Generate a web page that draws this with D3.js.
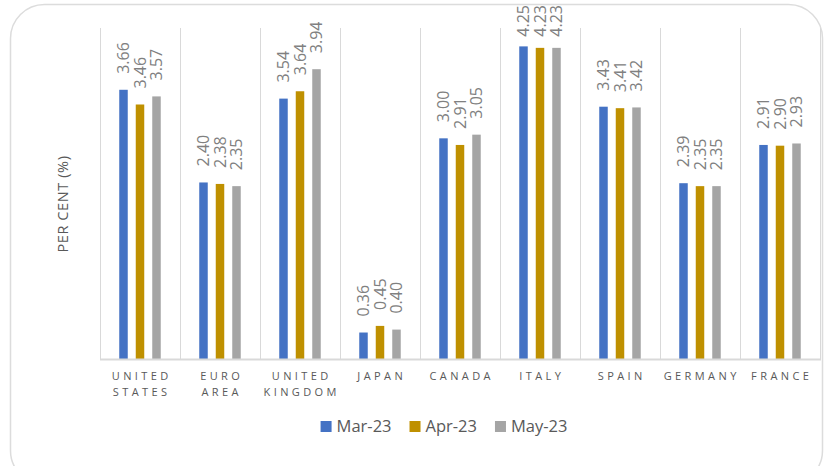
<!DOCTYPE html>
<html>
<head>
<meta charset="utf-8">
<script src="https://cdn.jsdelivr.net/npm/d3@7"></script>
<style>
  body { margin: 0; background: #fff; }
  svg { display: block; font-family: "Open Sans", "Noto Sans", sans-serif; }
</style>
</head>
<body>
<div id="chart"></div>
<script>
// data
var countries = ["UNITED STATES", "EURO AREA", "UNITED KINGDOM", "JAPAN", "CANADA", "ITALY", "SPAIN", "GERMANY", "FRANCE"];
var months = ["Mar-23", "Apr-23", "May-23"];
var mar23 = [3.66, 2.40, 3.54, 0.36, 3.00, 4.25, 3.43, 2.39, 2.91];
var apr23 = [3.46, 2.38, 3.64, 0.45, 2.91, 4.23, 3.41, 2.35, 2.90];
var may23 = [3.57, 2.35, 3.94, 0.40, 3.05, 4.23, 3.42, 2.35, 2.93];
var colors = ["#4472C4", "#BF9000", "#A5A5A5"];

var svgWidth = 825;
var svgHeight = 466;

// plot area
var plot = { left: 100, right: 820, top: 28, bottom: 359 };

var svg = d3.select("#chart").append("svg")
    .attr("width", svgWidth)
    .attr("height", svgHeight);

// rounded frame
svg.append("rect")
    .attr("x", 10.5)
    .attr("y", 4.5)
    .attr("width", 812)
    .attr("height", 480)
    .attr("rx", 34)
    .attr("fill", "#fff")
    .attr("stroke", "#dcdcdc")
    .attr("stroke-width", 1.5);

var x0 = d3.scaleBand()
    .domain(countries)
    .range([plot.left, plot.right])
    .padding(0);

var x1 = d3.scaleBand()
    .domain(months)
    .range([19.25, 60.75])
    .paddingInner(0.485)
    .paddingOuter(0);

var y = d3.scaleLinear()
    .domain([0, 4.5])
    .range([plot.bottom, plot.top]);

// vertical separators between categories
var seps = countries.map(function(c) { return x0(c); }).concat([plot.right]);
svg.append("g").selectAll("line")
    .data(seps)
    .enter()
    .append("line")
    .attr("x1", d => d + 0.5)
    .attr("x2", d => d + 0.5)
    .attr("y1", plot.top)
    .attr("y2", plot.bottom)
    .attr("stroke", "#d9d9d9")
    .attr("stroke-width", 1);

// bars
var series = [mar23, apr23, may23];
var rows = [];
countries.forEach(function(c, i) {
  months.forEach(function(m, j) {
    rows.push({ country: c, month: m, value: series[j][i], color: colors[j] });
  });
});

svg.append("g").selectAll("rect")
    .data(rows)
    .enter()
    .append("rect")
    .attr("x", d => x0(d.country) + x1(d.month))
    .attr("y", d => y(d.value))
    .attr("width", x1.bandwidth())
    .attr("height", d => y(0) - y(d.value))
    .attr("fill", d => d.color);

// baseline
svg.append("line")
    .attr("x1", plot.left)
    .attr("x2", plot.right + 1)
    .attr("y1", plot.bottom + 0.5)
    .attr("y2", plot.bottom + 0.5)
    .attr("stroke", "#d9d9d9")
    .attr("stroke-width", 2);

// value labels, rotated
var labels = svg.append("g").selectAll("text")
    .data(rows)
    .enter()
    .append("text")
    .attr("text-anchor", "start")
    .attr("dy", "0.36em")
    .style("font-size", "16px")
    .style("fill", "#808080")
    .text(d => d.value.toFixed(2));

labels.each(function(d) {
  var len = this.getComputedTextLength();
  var cx = x0(d.country) + x1(d.month) + x1.bandwidth() / 2;
  var start = Math.max(y(d.value) - 16, 5 + len);
  d3.select(this).attr("transform", `translate(${cx}, ${start}) rotate(-90)`);
});

// category labels
var catText = svg.append("g").selectAll("text")
    .data(countries)
    .enter()
    .append("text")
    .attr("text-anchor", "middle")
    .style("font-size", "11px")
    .style("letter-spacing", "3.4px")
    .style("fill", "#595959");

catText.each(function(d) {
  var words = d.split(" ");
  var t = d3.select(this);
  var cx = x0(d) + x0.bandwidth() / 2 + 1.7;
  words.forEach(function(w, k) {
    t.append("tspan")
      .attr("x", cx)
      .attr("y", 380 + k * 16)
      .text(w);
  });
});

// y axis title
svg.append("text")
    .attr("transform", "translate(68, 204) rotate(-90)")
    .attr("text-anchor", "middle")
    .style("font-size", "14.5px")
    .style("letter-spacing", "0.6px")
    .style("fill", "#595959")
    .text("PER CENT (%)");

// legend
var legend = svg.append("g");
var lx = 0;
months.forEach(function(m, j) {
  var g = legend.append("g").attr("transform", `translate(${lx}, 0)`);
  g.append("rect")
    .attr("x", 0)
    .attr("y", 421)
    .attr("width", 11)
    .attr("height", 11)
    .attr("fill", colors[j]);
  var t = g.append("text")
    .attr("x", 16)
    .attr("y", 432)
    .style("font-size", "16.5px")
    .style("fill", "#595959")
    .text(m);
  lx += 16 + t.node().getComputedTextLength() + 18;
});
var legendWidth = lx - 18;
legend.attr("transform", `translate(${444 - legendWidth / 2}, 0)`);
</script>
</body>
</html>
